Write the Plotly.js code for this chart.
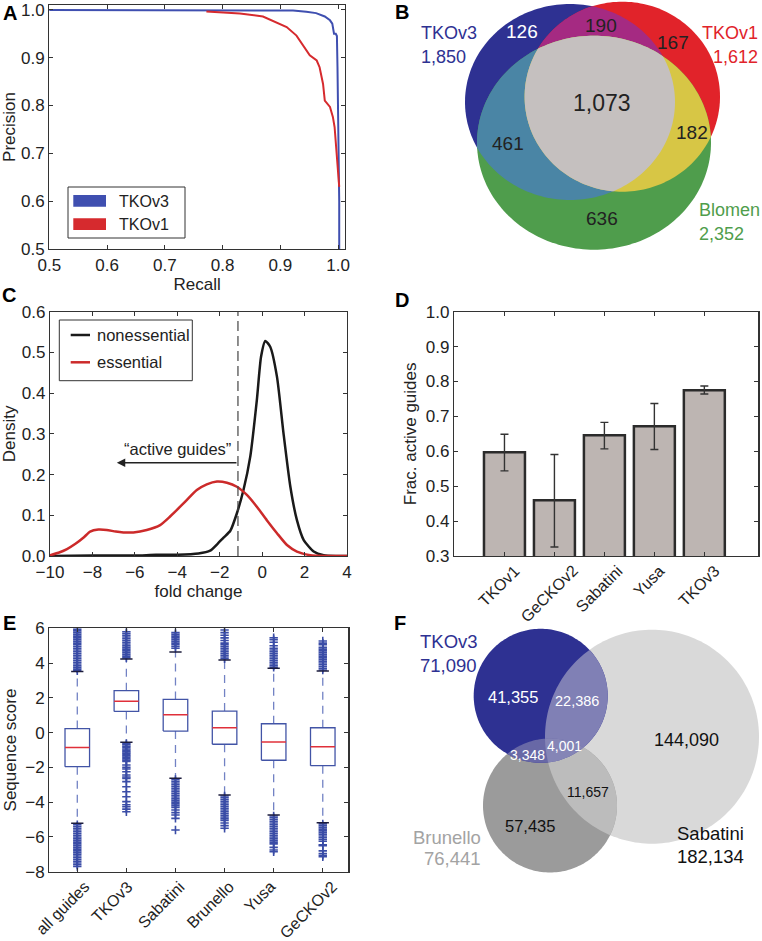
<!DOCTYPE html>
<html><head><meta charset="utf-8">
<script src="https://cdn.plot.ly/plotly-3.0.1.min.js"></script>
<style>html,body{margin:0;padding:0;background:#fff}</style>
</head><body><div id="chart" style="width:762px;height:941px"></div>
<script>
// ================= DATA =================
// Panel A: precision-recall curves
const recallV3 = [0.40, 0.80, 0.88, 0.922, 0.945, 0.962, 0.977, 0.986, 0.990, 0.993, 0.996, 0.998, 0.999, 1.000, 1.001, 1.002, 1.002];
const precV3   = [1.000, 1.000, 0.999, 0.9985, 0.996, 0.993, 0.986, 0.978, 0.971, 0.950, 0.950, 0.945, 0.880, 0.810, 0.706, 0.600, 0.500];
const recallV1 = [0.772, 0.800, 0.830, 0.870, 0.888, 0.911, 0.928, 0.940, 0.951, 0.963, 0.968, 0.974, 0.977, 0.986, 0.991, 0.994, 0.997, 1.000, 1.002];
const precV1   = [0.9965, 0.995, 0.992, 0.986, 0.976, 0.964, 0.946, 0.925, 0.905, 0.894, 0.880, 0.845, 0.810, 0.797, 0.776, 0.755, 0.706, 0.657, 0.630];
const libsA = ['TKOv3', 'TKOv1'];

// Panel B: essential gene overlap
const setsB = ['TKOv3', 'TKOv1', 'Blomen'];
const totalsB = ['1,850', '1,612', '2,352'];
const regionKeysB = ['v3', 'v3v1', 'v1', 'all', 'v3bl', 'v1bl', 'bl'];
const regionCountsB = ['126', '190', '167', '1,073', '461', '182', '636'];

// Panel C: fold-change densities
const nonessX = [-10, -8, -6, -5, -4, -3, -2.45, -2.1, -1.82, -1.5, -1.19, -0.88, -0.56, -0.25, -0.05, 0.15, 0.38, 0.70, 1.01, 1.33, 1.64, 1.96, 2.43, 2.9, 3.5, 4];
const nonessY = [0, 0.001, 0.001, 0.003, 0.003, 0.006, 0.013, 0.030, 0.045, 0.062, 0.105, 0.162, 0.244, 0.383, 0.490, 0.528, 0.514, 0.440, 0.300, 0.170, 0.088, 0.039, 0.011, 0.002, 0, 0];
const essX = [-10, -9.6, -9.2, -8.8, -8.4, -8.11, -7.72, -7.33, -6.9, -6.54, -6.07, -5.44, -4.81, -4.34, -3.71, -3.08, -2.61, -2.13, -1.66, -1.19, -0.72, -0.25, 0.22, 0.70, 1.17, 1.64, 2.27, 3.0, 4.0];
const essY = [0.002, 0.008, 0.017, 0.030, 0.046, 0.060, 0.065, 0.064, 0.060, 0.058, 0.058, 0.064, 0.076, 0.097, 0.129, 0.162, 0.176, 0.183, 0.180, 0.170, 0.150, 0.121, 0.088, 0.056, 0.027, 0.011, 0.002, 0, 0];
const seriesC = ['nonessential', 'essential'];
const activeCut = -1.14;
const arrowTipX = -6.85;
const arrowY = 0.229;

// Panel D: fraction of active guides
const libsD = ['TKOv1', 'GeCKOv2', 'Sabatini', 'Yusa', 'TKOv3'];
const fracActive = [0.597, 0.460, 0.646, 0.672, 0.775];
const fracErrPlus = [0.052, 0.131, 0.037, 0.065, 0.012];
const fracErrMinus = [0.053, 0.134, 0.039, 0.067, 0.011];

// Panel E: sequence score boxplots
const libsE = ['all guides', 'TKOv3', 'Sabatini', 'Brunello', 'Yusa', 'GeCKOv2'];
const q1E = [-1.96, 1.22, 0.09, -0.67, -1.59, -1.90];
const medE = [-0.85, 1.80, 1.03, 0.28, -0.54, -0.81];
const q3E = [0.23, 2.41, 1.91, 1.24, 0.51, 0.28];
const whiskLoE = [-5.22, -0.56, -2.63, -3.59, -4.74, -5.18];
const whiskHiE = [3.51, 4.24, 4.64, 4.18, 3.70, 3.55];
const outAll = [3.55,3.65,3.75,3.85,3.95,4.05,4.15,4.25,4.35,4.45,4.55,4.65,4.75,4.85,4.95,5.05,5.15,5.25,5.35,5.45,5.55,5.65,5.75,5.85,5.95,
  -5.3,-5.4,-5.5,-5.6,-5.7,-5.8,-5.9,-6.0,-6.1,-6.2,-6.3,-6.4,-6.5,-6.6,-6.7,-6.8,-6.9,-7.0,-7.1,-7.2,-7.3,-7.4,-7.5,-7.6,-7.7];
const outV3 = [4.3,4.4,4.5,4.6,4.7,4.8,4.9,5.0,5.1,5.2,5.3,5.4,5.5,5.6,5.7,5.8,
  -0.62,-0.7,-0.78,-0.86,-0.94,-1.02,-1.1,-1.18,-1.26,-1.34,-1.42,-1.5,-1.58,-1.66,-1.86,-2.0,-2.09,-2.25,-2.44,-2.55,-2.63,-2.82,-3.11,-3.4,-3.69,-3.97,-4.15,-4.26,-4.4,-4.55];
const outSab = [4.85,4.95,5.05,5.15,5.25,5.35,5.45,5.55,5.65,5.75,
  -2.7,-2.8,-2.9,-3.0,-3.1,-3.2,-3.3,-3.4,-3.5,-3.6,-3.7,-3.8,-3.9,-4.0,-4.1,-4.2,-4.3,-4.45,-4.6,-4.74,-4.93,-5.6];
const outBru = [4.25,4.35,4.45,4.55,4.65,4.75,4.85,4.95,5.05,5.15,5.3,5.45,5.6,5.75,5.9,
  -3.65,-3.75,-3.85,-3.95,-4.05,-4.15,-4.25,-4.35,-4.45,-4.55,-4.65,-4.75,-4.85,-4.95,-5.05,-5.2,-5.35,-5.5];
const outYus = [3.75,3.85,3.95,4.05,4.15,4.25,4.35,4.45,4.55,4.65,4.75,4.85,5.0,5.2,5.35,5.46,
  -4.8,-4.9,-5.0,-5.1,-5.2,-5.3,-5.4,-5.5,-5.6,-5.7,-5.8,-5.9,-6.0,-6.1,-6.2,-6.3,-6.4,-6.6,-6.75,-6.85];
const outGec = [3.6,3.7,3.8,3.9,4.0,4.1,4.2,4.3,4.4,4.5,4.6,4.7,4.8,4.9,5.05,5.15,5.27,
  -5.25,-5.35,-5.45,-5.55,-5.65,-5.75,-5.85,-5.95,-6.05,-6.15,-6.25,-6.45,-6.5,-6.8,-6.95,-7.05,-7.14];
const outliersE = [outAll, outV3, outSab, outBru, outYus, outGec];

// Panel F: guide overlap
const setsF = ['TKOv3', 'Sabatini', 'Brunello'];
const totalsF = ['71,090', '182,134', '76,441'];
const regionKeysF = ['v3', 'v3sab', 'all', 'v3bru', 'sab', 'sabbru', 'bru'];
const regionCountsF = ['41,355', '22,386', '4,001', '3,348', '144,090', '11,657', '57,435'];

// ================= STYLE / LAYOUT CONFIG =================
const W = 762, H = 941;
const FONT = 'Liberation Sans, Arial, Helvetica, sans-serif';
const px = x => x / W, py = y => 1 - y / H;
const TXT = '#222';
const TICK = 17, TITLE = 17;

// Venn geometry (pixel space)
const geomB = {
  TKOv3: {cx: 570, cy: 102, a: 105, b: 98, color: '#2e3192'},
  TKOv1: {cx: 622.3, cy: 96.7, a: 97.7, b: 95, color: '#e1232a'},
  Blomen: {cx: 594, cy: 142.7, a: 117, b: 107, color: '#4f9d4c'}
};
const pairColorsB = {'TKOv3|TKOv1': '#a52a82', 'TKOv3|Blomen': '#4a85a5', 'TKOv1|Blomen': '#d7c645'};
const tripleColorB = '#c5c0bf';
const regionPosB = {v3: [521.7, 31.7, 19, '#fff'], v3v1: [600.5, 25, 19, TXT], v1: [673, 42, 19, TXT], all: [601.7, 103.3, 23, TXT],
  v3bl: [508.3, 143.3, 19, TXT], v1bl: [691.7, 132.7, 19, TXT], bl: [601.7, 218.3, 19, TXT]};
const labelPosB = {TKOv3: [419, 33, 57, 'left'], TKOv1: [760, 33, 57, 'right'], Blomen: [697, 210, 234, 'left']};

const geomF = {
  Sabatini: {cx: 652, cy: 736.7, a: 107, b: 107, color: '#d9d9d9'},
  Brunello: {cx: 550, cy: 805.5, a: 67, b: 67, color: '#9b9b9b'},
  TKOv3: {cx: 540.7, cy: 695.8, a: 67, b: 67, color: '#2e3192'}
};
const pairColorsF = {'Sabatini|Brunello': '#bcbcbc', 'Sabatini|TKOv3': '#8080b5', 'Brunello|TKOv3': '#6868a6'};
const tripleColorF = '#8585b6';
const regionPosF = {v3: [513.3, 697.3, 16.5, '#fff'], v3sab: [577.3, 700.7, 14.5, '#fff'], all: [564.2, 745.5, 14, '#fff'], v3bru: [527.5, 755, 14, '#fff'],
  sab: [686, 740, 18, '#111'], sabbru: [587.8, 791.7, 14, '#111'], bru: [530, 826, 16.5, '#111']};
const labelPosF = {TKOv3: [418, 641, 665, 'left', '#2e3192'], Sabatini: [675, 833, 856, 'left', '#111'], Brunello: [483, 837, 858, 'right', '#a3a3a3']};

// ================= HELPERS =================
function ellipsePoly(g, n) {
  const pts = [];
  for (let i = 0; i < n; i++) { const t = 2 * Math.PI * i / n; pts.push([g.cx + g.a * Math.cos(t), g.cy + g.b * Math.sin(t)]); }
  return pts;
}
function clipPoly(subject, clip) {
  let area = 0;
  for (let i = 0; i < clip.length; i++) { const p = clip[i], q = clip[(i + 1) % clip.length]; area += p[0] * q[1] - q[0] * p[1]; }
  const s = area > 0 ? 1 : -1;
  let out = subject;
  for (let i = 0; i < clip.length && out.length; i++) {
    const A = clip[i], B = clip[(i + 1) % clip.length];
    const inside = p => s * ((B[0] - A[0]) * (p[1] - A[1]) - (B[1] - A[1]) * (p[0] - A[0])) >= 0;
    const inter = (P, Q) => {
      const a1 = B[1] - A[1], b1 = A[0] - B[0], c1 = a1 * A[0] + b1 * A[1];
      const a2 = Q[1] - P[1], b2 = P[0] - Q[0], c2 = a2 * P[0] + b2 * P[1];
      const d = a1 * b2 - a2 * b1;
      return [(b2 * c1 - b1 * c2) / d, (a1 * c2 - a2 * c1) / d];
    };
    const inp = out; out = [];
    for (let j = 0; j < inp.length; j++) {
      const cur = inp[j], prev = inp[(j + inp.length - 1) % inp.length];
      if (inside(cur)) { if (!inside(prev)) out.push(inter(prev, cur)); out.push(cur); }
      else if (inside(prev)) out.push(inter(prev, cur));
    }
  }
  return out;
}
const pathOf = pts => 'M' + pts.map(p => p[0].toFixed(2) + ',' + p[1].toFixed(2)).join('L') + 'Z';
const vshape = (pts, color) => ({type: 'path', xref: 'x5', yref: 'y5', path: pathOf(pts), fillcolor: color, line: {width: 0}, layer: 'above'});

function vennShapes(geom, order, pairColors, tripleColor) {
  const polys = {}; order.forEach(k => polys[k] = ellipsePoly(geom[k], 200));
  const shapes = order.map(k => vshape(polys[k], geom[k].color));
  Object.keys(pairColors).forEach(key => {
    const [a, b] = key.split('|');
    shapes.push(vshape(clipPoly(polys[a], polys[b]), pairColors[key]));
  });
  shapes.push(vshape(clipPoly(clipPoly(polys[order[0]], polys[order[1]]), polys[order[2]]), tripleColor));
  return shapes;
}

const txt = (x, y, text, size, color, extra) => Object.assign({xref: 'x5', yref: 'y5', x, y, text, showarrow: false,
  font: {family: FONT, size, color}, xanchor: 'center', yanchor: 'middle'}, extra || {});

// ================= TRACES =================
const traces = [];
// A
traces.push({type: 'scatter', mode: 'lines', name: libsA[0], x: recallV3, y: precV3, xaxis: 'x', yaxis: 'y', line: {color: '#3f4fb0', width: 2}, showlegend: false});
traces.push({type: 'scatter', mode: 'lines', name: libsA[1], x: recallV1, y: precV1, xaxis: 'x', yaxis: 'y', line: {color: '#d62a2e', width: 2}, showlegend: false});
// C
traces.push({type: 'scatter', mode: 'lines', name: seriesC[0], x: nonessX, y: nonessY, xaxis: 'x2', yaxis: 'y2', line: {color: '#1a1a1a', width: 2.5, shape: 'spline', smoothing: 0.6}, showlegend: false});
traces.push({type: 'scatter', mode: 'lines', name: seriesC[1], x: essX, y: essY, xaxis: 'x2', yaxis: 'y2', line: {color: '#cc2a2a', width: 2.5, shape: 'spline', smoothing: 0.6}, showlegend: false});
// D
traces.push({type: 'bar', x: libsD.map((_, i) => i), y: fracActive, xaxis: 'x3', yaxis: 'y3', width: 0.82,
  marker: {color: '#bdb5b2', line: {color: '#2b2b2b', width: 2.5}},
  error_y: {type: 'data', symmetric: false, array: fracErrPlus, arrayminus: fracErrMinus, color: '#333', thickness: 1.4, width: 4},
  showlegend: false, hovertext: libsD, textposition: 'none'});
// E
const hw = 0.25, cw = 0.125;
const bx = [], by = [], wx = [], wy = [], cx = [], cy = [], mx = [], my = [], ox = [], oy = [];
libsE.forEach((_, i) => {
  const p = i + 1;
  bx.push(p - hw, p + hw, p + hw, p - hw, p - hw, null); by.push(q1E[i], q1E[i], q3E[i], q3E[i], q1E[i], null);
  wx.push(p, p, null, p, p, null); wy.push(q3E[i], whiskHiE[i], null, q1E[i], whiskLoE[i], null);
  cx.push(p - cw, p + cw, null, p - cw, p + cw, null); cy.push(whiskHiE[i], whiskHiE[i], null, whiskLoE[i], whiskLoE[i], null);
  mx.push(p - hw, p + hw, null); my.push(medE[i], medE[i], null);
  outliersE[i].forEach(v => { ox.push(p); oy.push(v); });
});
traces.push({type: 'scatter', mode: 'lines', x: wx, y: wy, xaxis: 'x4', yaxis: 'y4', line: {color: '#7282c4', width: 1.3, dash: '8px,6px'}, showlegend: false, hoverinfo: 'skip'});
traces.push({type: 'scatter', mode: 'markers', x: ox, y: oy, xaxis: 'x4', yaxis: 'y4', marker: {symbol: 'cross-thin', size: 6, line: {color: '#3a4ca6', width: 1.6}}, showlegend: false});
traces.push({type: 'scatter', mode: 'lines', x: cx, y: cy, xaxis: 'x4', yaxis: 'y4', line: {color: '#1c1c3c', width: 1.5}, showlegend: false, hoverinfo: 'skip'});
traces.push({type: 'scatter', mode: 'lines', x: bx, y: by, xaxis: 'x4', yaxis: 'y4', line: {color: '#4254a6', width: 1.3}, showlegend: false, hoverinfo: 'skip'});
traces.push({type: 'scatter', mode: 'lines', x: mx, y: my, xaxis: 'x4', yaxis: 'y4', line: {color: '#e0303a', width: 1.5}, showlegend: false, hoverinfo: 'skip'});

// ================= AXES =================
const baseAxis = {showline: true, linecolor: '#333', linewidth: 1.2, mirror: 'ticks', ticks: 'inside', ticklen: 4, tickcolor: '#333', tickwidth: 1,
  showgrid: false, zeroline: false, tickfont: {family: FONT, size: TICK, color: TXT}, fixedrange: true};
const ax = o => Object.assign({}, baseAxis, o);
const tfont = {family: FONT, size: TITLE, color: TXT};

const layout = {
  width: W, height: H, margin: {l: 0, r: 0, t: 0, b: 0}, paper_bgcolor: '#fff', plot_bgcolor: 'rgba(0,0,0,0)', showlegend: false,
  font: {family: FONT, size: 16, color: TXT},
  xaxis: ax({domain: [px(49.3), px(345)], range: [0.5, 1.012], tickvals: [0.5, 0.6, 0.7, 0.8, 0.9, 1.0], tickformat: '.1f', anchor: 'y',
    title: {text: 'Recall', font: tfont, standoff: 4}}),
  yaxis: ax({domain: [py(249), py(5)], range: [0.5, 1.01], tickvals: [0.5, 0.6, 0.7, 0.8, 0.9, 1.0], tickformat: '.1f', anchor: 'x',
    title: {text: 'Precision', font: tfont, standoff: 4}}),
  xaxis2: ax({domain: [px(50), px(347)], range: [-10, 4], dtick: 2, anchor: 'y2', title: {text: 'fold change', font: tfont, standoff: 4}}),
  yaxis2: ax({domain: [py(556), py(311.7)], range: [0, 0.6], dtick: 0.1, tickformat: '.1f', anchor: 'x2', title: {text: 'Density', font: tfont, standoff: 4}}),
  xaxis3: ax({domain: [px(454), px(758.3)], range: [-1.01, 5.08], tickvals: libsD.map((_, i) => i), showticklabels: false, anchor: 'y3'}),
  yaxis3: ax({domain: [py(556), py(311.7)], range: [0.3, 1.0], dtick: 0.1, tickformat: '.1f', anchor: 'x3', title: {text: 'Frac. active guides', font: tfont, standoff: 4}}),
  xaxis4: ax({domain: [px(49.3), px(348.3)], range: [0.43, 6.52], tickvals: libsE.map((_, i) => i + 1), showticklabels: false, anchor: 'y4'}),
  yaxis4: ax({domain: [py(871.7), py(628.3)], range: [-8, 6], dtick: 2, anchor: 'x4', title: {text: 'Sequence score', font: tfont, standoff: 4}}),
  xaxis5: {domain: [0, 1], range: [0, W], visible: false, fixedrange: true, anchor: 'y5'},
  yaxis5: {domain: [0, 1], range: [H, 0], visible: false, fixedrange: true, anchor: 'x5'},
  shapes: [], annotations: []
};
// invisible trace to create the overlay subplot
traces.push({type: 'scatter', mode: 'markers', x: [0], y: [0], xaxis: 'x5', yaxis: 'y5', marker: {opacity: 0}, showlegend: false, hoverinfo: 'skip'});

const S = layout.shapes, A = layout.annotations;

// Venn B
vennShapes(geomB, setsB, pairColorsB, tripleColorB).forEach(s => S.push(s));
regionKeysB.forEach((k, i) => { const r = regionPosB[k]; A.push(txt(r[0], r[1], regionCountsB[i], r[2], r[3])); });
setsB.forEach((k, i) => { const p = labelPosB[k]; const col = geomB[k].color;
  A.push(txt(p[0], p[1], k, 18, col, {xanchor: p[3]})); A.push(txt(p[0], p[2], totalsB[i], 18, col, {xanchor: p[3]})); });

// Venn F
vennShapes(geomF, ['Sabatini', 'Brunello', 'TKOv3'], pairColorsF, tripleColorF).forEach(s => S.push(s));
regionKeysF.forEach((k, i) => { const r = regionPosF[k]; A.push(txt(r[0], r[1], regionCountsF[i], r[2], r[3])); });
setsF.forEach((k, i) => { const p = labelPosF[k];
  A.push(txt(p[0], p[1], k, 18.5, p[4], {xanchor: p[3]})); A.push(txt(p[0], p[2], totalsF[i], 18.5, p[4], {xanchor: p[3]})); });

// Panel A legend (patch style)
S.push({type: 'rect', xref: 'x5', yref: 'y5', x0: 68, x1: 185, y0: 187, y1: 238, fillcolor: '#fff', line: {color: '#333', width: 1}});
S.push({type: 'rect', xref: 'x5', yref: 'y5', x0: 73.3, x1: 106, y0: 195, y1: 206.7, fillcolor: '#3f4fb0', line: {width: 0}});
S.push({type: 'rect', xref: 'x5', yref: 'y5', x0: 73.3, x1: 106, y0: 218.3, y1: 230, fillcolor: '#d62a2e', line: {width: 0}});
A.push(txt(116.5, 201, libsA[0], 16, TXT, {xanchor: 'left'}));
A.push(txt(116.5, 224.5, libsA[1], 16, TXT, {xanchor: 'left'}));

// Panel C legend (line style)
S.push({type: 'rect', xref: 'x5', yref: 'y5', x0: 59.3, x1: 192.3, y0: 320, y1: 380.7, fillcolor: '#fff', line: {color: '#333', width: 1}});
S.push({type: 'line', xref: 'x5', yref: 'y5', x0: 70.7, x1: 90, y0: 335, y1: 335, line: {color: '#1a1a1a', width: 2.5}});
S.push({type: 'line', xref: 'x5', yref: 'y5', x0: 70.7, x1: 90, y0: 362.3, y1: 362.3, line: {color: '#cc2a2a', width: 2.5}});
A.push(txt(95, 335, seriesC[0], 16.5, TXT, {xanchor: 'left'}));
A.push(txt(95, 362.3, seriesC[1], 16.5, TXT, {xanchor: 'left'}));

// Panel C dashed cutoff and arrow
S.push({type: 'line', xref: 'x2', yref: 'y2 domain', x0: activeCut, x1: activeCut, y0: 0, y1: 1, line: {color: '#444', width: 1.2, dash: '10px,5px'}});
A.push({xref: 'x2', yref: 'y2', x: arrowTipX, y: arrowY, ax: activeCut, ay: arrowY, axref: 'x2', ayref: 'y2', showarrow: true,
  arrowhead: 2, arrowsize: 1.3, arrowwidth: 1.3, arrowcolor: '#222', text: ''});
A.push({xref: 'x2', yref: 'y2', x: (arrowTipX + activeCut) / 2, y: arrowY, yshift: 14, text: '\u201cactive guides\u201d', showarrow: false,
  font: {family: FONT, size: 16.5, color: TXT}});

// Rotated category labels D and E
libsD.forEach((t, i) => A.push({xref: 'x3', yref: 'paper', x: i, y: py(559), text: t, textangle: -45, showarrow: false,
  xanchor: 'center', yanchor: 'top', xshift: -5, font: {family: FONT, size: 16, color: TXT}}));
libsE.forEach((t, i) => A.push({xref: 'x4', yref: 'paper', x: i + 1, y: py(875), text: t, textangle: -45, showarrow: false,
  xanchor: 'center', yanchor: 'top', xshift: -14, font: {family: FONT, size: 16, color: TXT}}));

// Panel letters
[['A', 10, 13], ['B', 402, 12], ['C', 9, 295], ['D', 402, 300], ['E', 9, 623], ['F', 400, 623]].forEach(l =>
  A.push(txt(l[1], l[2], '<b>' + l[0] + '</b>', 20, '#000')));

Plotly.newPlot('chart', traces, layout, {staticPlot: true, displayModeBar: false});
</script></body></html>
